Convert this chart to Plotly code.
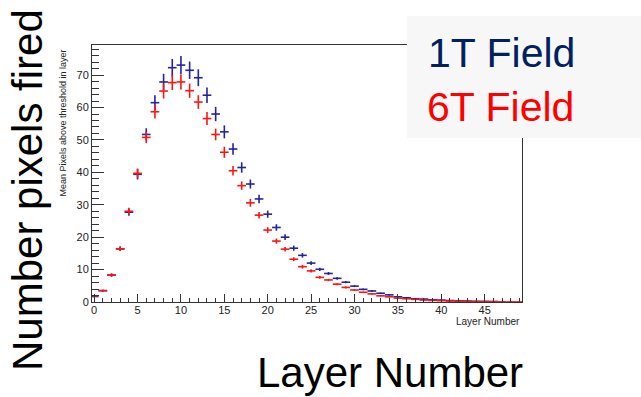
import plotly.graph_objects as go

# ---------------- data ----------------
layers = list(range(50))

field_1T = [1.7, 3.5, 8.3, 16.4, 27.7, 39.4, 51.7, 61.5, 67.9, 72.3,
            73.1, 71.5, 69.2, 63.8, 58.0, 52.5, 47.2, 41.5, 36.4, 31.8,
            27.1, 23.0, 20.0, 16.6, 14.4, 12.0, 10.1, 8.8, 7.3, 6.1,
            4.9, 3.9, 3.4, 2.7, 2.2, 1.6, 1.3, 1.0, 0.9, 0.7,
            0.6, 0.45, 0.35, 0.3, 0.2, 0.2, 0.15, None, None, None]
field_1T_err = [0.2, 0.3, 0.5, 0.7, 1.1, 1.6, 1.9, 2.3, 2.5, 2.7,
                2.8, 2.7, 2.6, 2.4, 2.2, 2.0, 1.8, 1.6, 1.4, 1.3,
                1.1, 1.0, 0.9, 0.8, 0.7, 0.6, 0.5, 0.45, 0.4, 0.35,
                0.3, 0.3, 0.25, 0.2, 0.2, 0.15, 0.15, 0.1, 0.1, 0.1,
                0.1, 0.08, 0.07, 0.06, 0.05, 0.05, 0.04, 0, 0, 0]

field_6T = [1.9, 3.5, 8.3, 16.4, 28.0, 39.7, 50.8, 58.7, 65.1, 67.7,
            67.9, 65.2, 61.7, 56.6, 51.7, 46.2, 40.5, 35.9, 30.6, 26.8,
            22.2, 18.8, 16.3, 13.2, 10.9, 9.6, 7.6, 6.8, 5.5, 4.5,
            3.7, 3.0, 2.5, 1.9, 1.6, 1.2, 1.0, 0.8, 0.6, 0.5,
            0.4, 0.3, 0.25, 0.2, 0.15, 0.1, 0.08, 0.05, 0.03, 0.03]
field_6T_err = [0.2, 0.3, 0.5, 0.7, 1.1, 1.5, 1.8, 2.1, 2.3, 2.3,
                2.3, 2.2, 2.1, 2.0, 1.8, 1.7, 1.5, 1.3, 1.2, 1.0,
                0.9, 0.8, 0.7, 0.6, 0.55, 0.5, 0.4, 0.35, 0.3, 0.3,
                0.25, 0.2, 0.2, 0.15, 0.15, 0.1, 0.1, 0.1, 0.08, 0.07,
                0.06, 0.05, 0.05, 0.04, 0.03, 0.03, 0.02, 0, 0, 0]

x_ticks = [0, 5, 10, 15, 20, 25, 30, 35, 40, 45]
y_ticks = [0, 10, 20, 30, 40, 50, 60, 70]

BLUE = "#24249c"
RED = "#ff1414"

fig = go.Figure()


def add_series(y, err, color):
    fig.add_trace(go.Scatter(
        x=layers, y=y, mode="markers",
        marker=dict(size=1, color=color),
        error_x=dict(type="constant", value=0.5, width=0, thickness=1.6, color=color),
        error_y=dict(type="data", array=err, width=0, thickness=1.6, color=color),
        showlegend=False, cliponaxis=True,
    ))


add_series(field_1T, field_1T_err, BLUE)
add_series(field_6T, field_6T_err, RED)

# plot area in pixels: x 92..522, y 45..302
L, R, T, B = 92, 522, 45, 302
W, H = 641, 397


def px(xp):
    return (xp - L) / (R - L)


def py(yp):
    return (B - yp) / (B - T)


fig.update_layout(
    width=W, height=H,
    margin=dict(l=L, r=W - R, t=T, b=H - B, pad=0),
    paper_bgcolor="white", plot_bgcolor="white",
    font=dict(family="Liberation Sans, Arial, sans-serif", color="#222"),
    xaxis=dict(
        range=[-0.25, 49.3], tickmode="array", tickvals=x_ticks,
        ticks="inside", ticklen=8, tickcolor="#333", tickwidth=1,
        showline=True, linecolor="#333", linewidth=1, mirror=True,
        showgrid=False, zeroline=False, ticklabelstandoff=-2,
        tickfont=dict(size=11, color="#222"),
        minor=dict(dtick=1, ticks="inside", ticklen=4, tickcolor="#333", showgrid=False),
    ),
    yaxis=dict(
        range=[0, 79.3], tickmode="array", tickvals=y_ticks,
        ticks="inside", ticklen=12, tickcolor="#333", tickwidth=1,
        showline=True, linecolor="#333", linewidth=1, mirror=True,
        showgrid=False, zeroline=False,
        tickfont=dict(size=11, color="#222"),
        minor=dict(dtick=2, ticks="inside", ticklen=7, tickcolor="#333", showgrid=False),
    ),
    shapes=[
        dict(type="rect", xref="paper", yref="paper",
             x0=px(407), x1=px(645), y0=py(138), y1=py(16),
             fillcolor="#f7f7f7", line=dict(width=0), layer="above"),
    ],
    annotations=[
        dict(text="Layer Number", xref="paper", yref="paper",
             x=px(522), y=py(321.5), xanchor="right", yanchor="middle",
             showarrow=False, font=dict(size=10, color="#222")),
        dict(text="Mean Pixels above threshold in layer", xref="paper", yref="paper",
             x=px(63), y=py(48), xanchor="center", yanchor="top", textangle=-90,
             showarrow=False, font=dict(size=9, color="#222")),
        dict(text="Number pixels fired", xref="paper", yref="paper",
             x=px(27), y=py(190), xanchor="center", yanchor="middle", textangle=-90,
             showarrow=False, font=dict(size=42, color="black")),
        dict(text="Layer Number", xref="paper", yref="paper",
             x=px(390), y=py(372), xanchor="center", yanchor="middle",
             showarrow=False, font=dict(size=42, color="black")),
        dict(text="1T Field", xref="paper", yref="paper",
             x=px(426), y=py(53), xanchor="left", yanchor="middle",
             showarrow=False, font=dict(size=41, color="#002060")),
        dict(text="6T Field", xref="paper", yref="paper",
             x=px(425), y=py(107), xanchor="left", yanchor="middle",
             showarrow=False, font=dict(size=41, color="#ff0000")),
    ],
)

fig.write_html("out.html")
